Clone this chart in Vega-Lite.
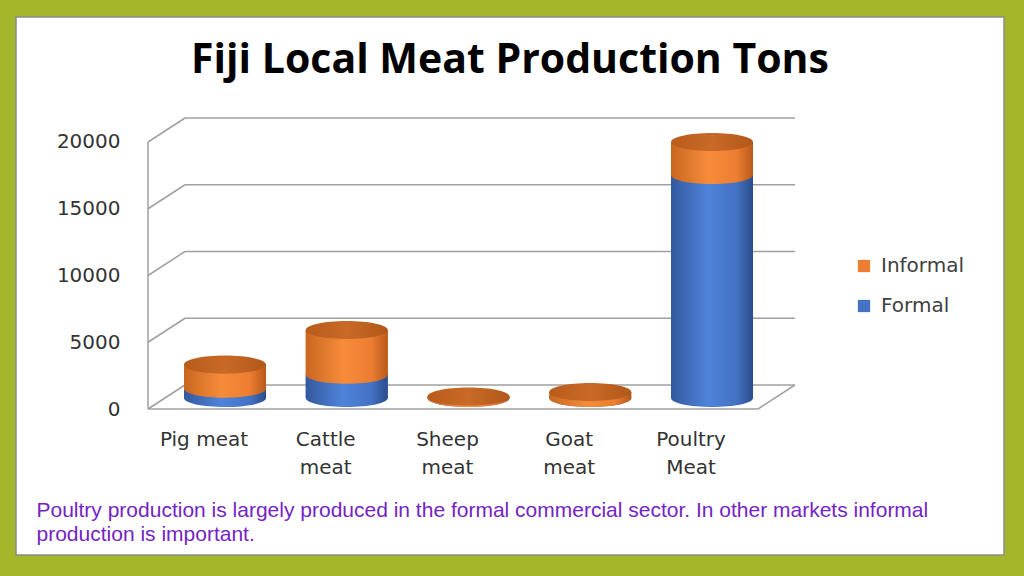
{
  "$schema": "https://vega.github.io/schema/vega-lite/v6.json",
  "width": 1024,
  "height": 576,
  "autosize": {"type": "fit", "contains": "padding"},
  "padding": {"left": 16, "top": 17, "right": 20, "bottom": 21},
  "background": "#a6b62a",
  "config": {"view": {"fill": "white", "stroke": "#8c8c8c", "strokeWidth": 1.5}},
  "title": {"text": "Fiji Local Meat Production Tons", "font": "Open Sans", "fontSize": 41, "fontWeight": "bold", "color": "#000000", "anchor": "middle", "offset": -97, "baseline": "alphabetic"},
  "datasets": {
    "meat": [
      {"meat": "Pig meat", "sector": "Formal", "tons": 700},
      {"meat": "Pig meat", "sector": "Informal", "tons": 1800},
      {"meat": "Cattle meat", "sector": "Formal", "tons": 1750},
      {"meat": "Cattle meat", "sector": "Informal", "tons": 3350},
      {"meat": "Sheep meat", "sector": "Formal", "tons": 0},
      {"meat": "Sheep meat", "sector": "Informal", "tons": 120},
      {"meat": "Goat meat", "sector": "Formal", "tons": 0},
      {"meat": "Goat meat", "sector": "Informal", "tons": 450},
      {"meat": "Poultry Meat", "sector": "Formal", "tons": 16700},
      {"meat": "Poultry Meat", "sector": "Informal", "tons": 2480}
    ],
    "grid": [{"v": 0}, {"v": 5000}, {"v": 10000}, {"v": 15000}, {"v": 20000}]
  },
  "layer": [
    {
      "data": {"name": "grid"},
      "layer": [
        {
          "mark": {"type": "rule", "color": "#a0a0a0", "strokeWidth": 1.5, "xOffset": 37, "x2Offset": 37, "yOffset": -13},
          "encoding": {
            "x": {"datum": 0, "type": "quantitative", "scale": {"domain": [-0.2164, 1.4033], "nice": false, "zero": false}, "axis": null},
            "x2": {"datum": 1},
            "y": {"field": "v", "type": "quantitative", "scale": {"domain": [-11760, 28539], "nice": false, "zero": false},
              "axis": {"values": [0, 5000, 10000, 15000, 20000], "orient": "left", "offset": -112, "labelOffset": 11, "labelPadding": 8, "ticks": false, "tickSize": 0, "domain": false, "grid": false, "title": null, "format": "d", "labelFont": "DejaVu Sans", "labelFontSize": 20, "labelColor": "#333333"}}
          }
        },
        {
          "mark": {"type": "rule", "color": "#a0a0a0", "strokeWidth": 1.5, "x2Offset": 37, "yOffset": 11, "y2Offset": -13},
          "encoding": {
            "x": {"datum": 0, "type": "quantitative", "axis": null},
            "x2": {"datum": 0},
            "y": {"field": "v", "type": "quantitative"},
            "y2": {"field": "v"}
          }
        },
        {
          "transform": [{"filter": "datum.v == 0"}],
          "layer": [
            {
              "mark": {"type": "rule", "color": "#a0a0a0", "strokeWidth": 1.5, "yOffset": 11, "y2Offset": 11},
              "encoding": {
                "x": {"datum": 0, "type": "quantitative", "axis": null},
                "y": {"datum": 0, "type": "quantitative"},
                "y2": {"datum": 20000}
              }
            },
            {
              "mark": {"type": "rule", "color": "#a0a0a0", "strokeWidth": 1.5, "yOffset": 11},
              "encoding": {
                "x": {"datum": 0, "type": "quantitative", "axis": null},
                "x2": {"datum": 1},
                "y": {"datum": 0, "type": "quantitative"}
              }
            },
            {
              "mark": {"type": "rule", "color": "#a0a0a0", "strokeWidth": 1.5, "x2Offset": 37, "yOffset": 11, "y2Offset": -13},
              "encoding": {
                "x": {"datum": 1, "type": "quantitative", "axis": null},
                "x2": {"datum": 1},
                "y": {"datum": 0, "type": "quantitative"},
                "y2": {"datum": 0}
              }
            }
          ]
        }
      ]
    },
    {
      "data": {"name": "meat"},
      "transform": [
        {"stack": "tons", "groupby": ["meat"], "sort": [{"field": "sector", "order": "ascending"}], "as": ["y0", "y1"]}
      ],
      "layer": [
        {
          "mark": {"type": "bar"},
          "encoding": {
            "x": {"field": "meat", "type": "nominal", "sort": ["Pig meat", "Cattle meat", "Sheep meat", "Goat meat", "Poultry Meat"],
              "scale": {"range": [168, 737], "paddingInner": 0.3265, "paddingOuter": 0},
              "axis": {"orient": "bottom", "offset": -129, "labelOffset": -21, "labelPadding": 3, "ticks": false, "tickSize": 0, "domain": false, "grid": false, "labelAngle": 0,
                "labelFont": "DejaVu Sans", "labelFontSize": 20, "labelColor": "#333333", "labelLineHeight": 28, "labelBaseline": "top",
                "labelExpr": "datum.label == 'Pig meat' ? datum.label : split(datum.label, ' ')",
                "title": ["Poultry production is largely produced in the formal commercial sector. In other markets informal", "production is important."],
                "titleFont": "Liberation Sans", "titleFontSize": 21, "titleFontWeight": "normal", "titleColor": "#7424c4", "titleLineHeight": 24,
                "titleX": 20, "titleY": 73, "titleAlign": "left", "titleBaseline": "top", "titleAnchor": "start"}},
            "y": {"field": "y0", "type": "quantitative"},
            "y2": {"field": "y1"},
            "color": {"field": "sector", "type": "nominal", "scale": {"domain": ["Informal", "Formal"], "range": ["#ED7D31", "#4472C4"]},
              "legend": {"title": null, "orient": "none", "legendX": 838, "legendY": 239, "symbolType": "square", "symbolSize": 150, "symbolStrokeWidth": 0,
                "labelFont": "DejaVu Sans", "labelFontSize": 20, "labelColor": "#404040", "rowPadding": 20, "labelOffset": 7, "padding": 0}}
          }
        },
        {
          "transform": [{"filter": "datum.sector == 'Formal'"}],
          "mark": {"type": "bar", "fill": {"gradient": "linear", "x1": 0, "y1": 0, "x2": 1, "y2": 0, "stops": [{"offset": 0, "color": "#33599e"}, {"offset": 0.45, "color": "#4f83d9"}, {"offset": 0.8, "color": "#4472c4"}, {"offset": 1, "color": "#2a4c8a"}]}},
          "encoding": {
            "x": {"field": "meat", "type": "nominal", "sort": ["Pig meat", "Cattle meat", "Sheep meat", "Goat meat", "Poultry Meat"]},
            "y": {"field": "y0", "type": "quantitative"},
            "y2": {"field": "y1"}
          }
        },
        {
          "transform": [{"filter": "datum.sector == 'Informal'"}],
          "mark": {"type": "bar", "fill": {"gradient": "linear", "x1": 0, "y1": 0, "x2": 1, "y2": 0, "stops": [{"offset": 0, "color": "#c9661f"}, {"offset": 0.45, "color": "#f68c3a"}, {"offset": 0.8, "color": "#ed7d31"}, {"offset": 1, "color": "#b85a1a"}]}},
          "encoding": {
            "x": {"field": "meat", "type": "nominal", "sort": ["Pig meat", "Cattle meat", "Sheep meat", "Goat meat", "Poultry Meat"]},
            "y": {"field": "y0", "type": "quantitative"},
            "y2": {"field": "y1"}
          }
        },
        {
          "transform": [{"filter": "datum.sector == 'Formal'"}],
          "mark": {"type": "point", "shape": "M-1,0A1,0.22,0,1,0,1,0A1,0.22,0,1,0,-1,0Z", "size": 6724, "filled": true, "opacity": 1, "strokeWidth": 0,
            "fill": {"gradient": "linear", "x1": 0, "y1": 0, "x2": 1, "y2": 0, "stops": [{"offset": 0, "color": "#33599e"}, {"offset": 0.45, "color": "#4f83d9"}, {"offset": 0.8, "color": "#4472c4"}, {"offset": 1, "color": "#2a4c8a"}]}},
          "encoding": {
            "x": {"field": "meat", "type": "nominal", "sort": ["Pig meat", "Cattle meat", "Sheep meat", "Goat meat", "Poultry Meat"]},
            "y": {"field": "y0", "type": "quantitative"}
          }
        },
        {
          "transform": [{"filter": "datum.sector == 'Informal'"}],
          "mark": {"type": "point", "shape": "M-1,0A1,0.22,0,1,0,1,0A1,0.22,0,1,0,-1,0Z", "size": 6724, "filled": true, "opacity": 1, "strokeWidth": 0,
            "fill": {"gradient": "linear", "x1": 0, "y1": 0, "x2": 1, "y2": 0, "stops": [{"offset": 0, "color": "#c9661f"}, {"offset": 0.45, "color": "#f68c3a"}, {"offset": 0.8, "color": "#ed7d31"}, {"offset": 1, "color": "#b85a1a"}]}},
          "encoding": {
            "x": {"field": "meat", "type": "nominal", "sort": ["Pig meat", "Cattle meat", "Sheep meat", "Goat meat", "Poultry Meat"]},
            "y": {"field": "y0", "type": "quantitative"}
          }
        },
        {
          "transform": [{"filter": "datum.sector == 'Informal'"}],
          "mark": {"type": "point", "shape": "M-1,0A1,0.22,0,1,0,1,0A1,0.22,0,1,0,-1,0Z", "size": 6724, "filled": true, "opacity": 1, "strokeWidth": 0,
            "fill": {"gradient": "linear", "x1": 0, "y1": 0, "x2": 1, "y2": 0, "stops": [{"offset": 0, "color": "#b85c1c"}, {"offset": 0.5, "color": "#c96a26"}, {"offset": 1, "color": "#b2581a"}]}},
          "encoding": {
            "x": {"field": "meat", "type": "nominal", "sort": ["Pig meat", "Cattle meat", "Sheep meat", "Goat meat", "Poultry Meat"]},
            "y": {"field": "y1", "type": "quantitative"}
          }
        }
      ]
    }
  ],
  "resolve": {"scale": {"x": "independent"}}
}
